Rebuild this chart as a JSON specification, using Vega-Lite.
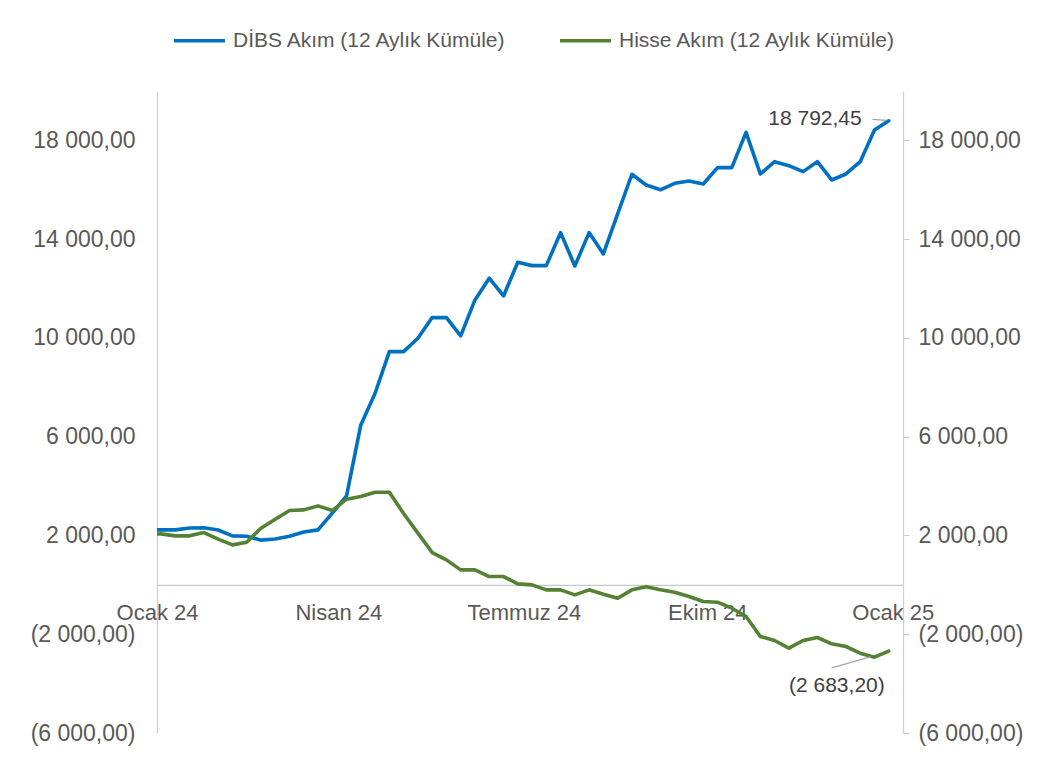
{
  "$schema": "https://vega.github.io/schema/vega-lite/v6.json",
  "width": 746,
  "height": 642,
  "autosize": {"type": "none"},
  "padding": {"left": 157, "top": 91, "right": 135, "bottom": 27},
  "background": "white",
  "config": {
    "font": "Liberation Sans",
    "locale": {"number": {"decimal": ",", "thousands": " ", "grouping": [3], "currency": ["", ""]}},
    "view": {"stroke": null},
    "axis": {"labelFont": "Liberation Sans", "labelFontSize": 23, "labelColor": "#595959", "grid": false, "domainColor": "#D0D0D0", "domainWidth": 1.3, "title": null}
  },
  "data": {
    "values": [
      {"tarih": "2023-12-27", "seri": "DİBS Akım (12 Aylık Kümüle)", "deger": 2227},
      {"tarih": "2024-01-03", "seri": "DİBS Akım (12 Aylık Kümüle)", "deger": 2227},
      {"tarih": "2024-01-10", "seri": "DİBS Akım (12 Aylık Kümüle)", "deger": 2227},
      {"tarih": "2024-01-17", "seri": "DİBS Akım (12 Aylık Kümüle)", "deger": 2300},
      {"tarih": "2024-01-24", "seri": "DİBS Akım (12 Aylık Kümüle)", "deger": 2310},
      {"tarih": "2024-01-31", "seri": "DİBS Akım (12 Aylık Kümüle)", "deger": 2220},
      {"tarih": "2024-02-07", "seri": "DİBS Akım (12 Aylık Kümüle)", "deger": 1984},
      {"tarih": "2024-02-14", "seri": "DİBS Akım (12 Aylık Kümüle)", "deger": 1970},
      {"tarih": "2024-02-21", "seri": "DİBS Akım (12 Aylık Kümüle)", "deger": 1810},
      {"tarih": "2024-02-28", "seri": "DİBS Akım (12 Aylık Kümüle)", "deger": 1855},
      {"tarih": "2024-03-06", "seri": "DİBS Akım (12 Aylık Kümüle)", "deger": 1970},
      {"tarih": "2024-03-13", "seri": "DİBS Akım (12 Aylık Kümüle)", "deger": 2140},
      {"tarih": "2024-03-20", "seri": "DİBS Akım (12 Aylık Kümüle)", "deger": 2227},
      {"tarih": "2024-03-27", "seri": "DİBS Akım (12 Aylık Kümüle)", "deger": 2903},
      {"tarih": "2024-04-03", "seri": "DİBS Akım (12 Aylık Kümüle)", "deger": 3600},
      {"tarih": "2024-04-10", "seri": "DİBS Akım (12 Aylık Kümüle)", "deger": 6478},
      {"tarih": "2024-04-17", "seri": "DİBS Akım (12 Aylık Kümüle)", "deger": 7760},
      {"tarih": "2024-04-24", "seri": "DİBS Akım (12 Aylık Kümüle)", "deger": 9447},
      {"tarih": "2024-05-01", "seri": "DİBS Akım (12 Aylık Kümüle)", "deger": 9447},
      {"tarih": "2024-05-08", "seri": "DİBS Akım (12 Aylık Kümüle)", "deger": 9987},
      {"tarih": "2024-05-15", "seri": "DİBS Akım (12 Aylık Kümüle)", "deger": 10830},
      {"tarih": "2024-05-22", "seri": "DİBS Akım (12 Aylık Kümüle)", "deger": 10822},
      {"tarih": "2024-05-29", "seri": "DİBS Akım (12 Aylık Kümüle)", "deger": 10081},
      {"tarih": "2024-06-05", "seri": "DİBS Akım (12 Aylık Kümüle)", "deger": 11538},
      {"tarih": "2024-06-12", "seri": "DİBS Akım (12 Aylık Kümüle)", "deger": 12417},
      {"tarih": "2024-06-19", "seri": "DİBS Akım (12 Aylık Kümüle)", "deger": 11700},
      {"tarih": "2024-06-26", "seri": "DİBS Akım (12 Aylık Kümüle)", "deger": 13063},
      {"tarih": "2024-07-03", "seri": "DİBS Akım (12 Aylık Kümüle)", "deger": 12928},
      {"tarih": "2024-07-10", "seri": "DİBS Akım (12 Aylık Kümüle)", "deger": 12928},
      {"tarih": "2024-07-17", "seri": "DİBS Akım (12 Aylık Kümüle)", "deger": 14265},
      {"tarih": "2024-07-24", "seri": "DİBS Akım (12 Aylık Kümüle)", "deger": 12915},
      {"tarih": "2024-07-31", "seri": "DİBS Akım (12 Aylık Kümüle)", "deger": 14265},
      {"tarih": "2024-08-07", "seri": "DİBS Akım (12 Aylık Kümüle)", "deger": 13401},
      {"tarih": "2024-08-14", "seri": "DİBS Akım (12 Aylık Kümüle)", "deger": 15020},
      {"tarih": "2024-08-21", "seri": "DİBS Akım (12 Aylık Kümüle)", "deger": 16628},
      {"tarih": "2024-08-28", "seri": "DİBS Akım (12 Aylık Kümüle)", "deger": 16194},
      {"tarih": "2024-09-04", "seri": "DİBS Akım (12 Aylık Kümüle)", "deger": 16000},
      {"tarih": "2024-09-11", "seri": "DİBS Akım (12 Aylık Kümüle)", "deger": 16262},
      {"tarih": "2024-09-18", "seri": "DİBS Akım (12 Aylık Kümüle)", "deger": 16356},
      {"tarih": "2024-09-25", "seri": "DİBS Akım (12 Aylık Kümüle)", "deger": 16235},
      {"tarih": "2024-10-02", "seri": "DİBS Akım (12 Aylık Kümüle)", "deger": 16896},
      {"tarih": "2024-10-09", "seri": "DİBS Akım (12 Aylık Kümüle)", "deger": 16896},
      {"tarih": "2024-10-16", "seri": "DİBS Akım (12 Aylık Kümüle)", "deger": 18327},
      {"tarih": "2024-10-23", "seri": "DİBS Akım (12 Aylık Kümüle)", "deger": 16640},
      {"tarih": "2024-10-30", "seri": "DİBS Akım (12 Aylık Kümüle)", "deger": 17139},
      {"tarih": "2024-11-06", "seri": "DİBS Akım (12 Aylık Kümüle)", "deger": 16977},
      {"tarih": "2024-11-13", "seri": "DİBS Akım (12 Aylık Kümüle)", "deger": 16734},
      {"tarih": "2024-11-20", "seri": "DİBS Akım (12 Aylık Kümüle)", "deger": 17139},
      {"tarih": "2024-11-27", "seri": "DİBS Akım (12 Aylık Kümüle)", "deger": 16397},
      {"tarih": "2024-12-04", "seri": "DİBS Akım (12 Aylık Kümüle)", "deger": 16640},
      {"tarih": "2024-12-11", "seri": "DİBS Akım (12 Aylık Kümüle)", "deger": 17139},
      {"tarih": "2024-12-18", "seri": "DİBS Akım (12 Aylık Kümüle)", "deger": 18421},
      {"tarih": "2024-12-25", "seri": "DİBS Akım (12 Aylık Kümüle)", "deger": 18792.45},
      {"tarih": "2023-12-27", "seri": "Hisse Akım (12 Aylık Kümüle)", "deger": 2050},
      {"tarih": "2024-01-03", "seri": "Hisse Akım (12 Aylık Kümüle)", "deger": 2065},
      {"tarih": "2024-01-10", "seri": "Hisse Akım (12 Aylık Kümüle)", "deger": 1984},
      {"tarih": "2024-01-17", "seri": "Hisse Akım (12 Aylık Kümüle)", "deger": 1984},
      {"tarih": "2024-01-24", "seri": "Hisse Akım (12 Aylık Kümüle)", "deger": 2119},
      {"tarih": "2024-01-31", "seri": "Hisse Akım (12 Aylık Kümüle)", "deger": 1849},
      {"tarih": "2024-02-07", "seri": "Hisse Akım (12 Aylık Kümüle)", "deger": 1619},
      {"tarih": "2024-02-14", "seri": "Hisse Akım (12 Aylık Kümüle)", "deger": 1727},
      {"tarih": "2024-02-21", "seri": "Hisse Akım (12 Aylık Kümüle)", "deger": 2294},
      {"tarih": "2024-02-28", "seri": "Hisse Akım (12 Aylık Kümüle)", "deger": 2659},
      {"tarih": "2024-03-06", "seri": "Hisse Akım (12 Aylık Kümüle)", "deger": 3009},
      {"tarih": "2024-03-13", "seri": "Hisse Akım (12 Aylık Kümüle)", "deger": 3036},
      {"tarih": "2024-03-20", "seri": "Hisse Akım (12 Aylık Kümüle)", "deger": 3198},
      {"tarih": "2024-03-27", "seri": "Hisse Akım (12 Aylık Kümüle)", "deger": 3009},
      {"tarih": "2024-04-03", "seri": "Hisse Akım (12 Aylık Kümüle)", "deger": 3468},
      {"tarih": "2024-04-10", "seri": "Hisse Akım (12 Aylık Kümüle)", "deger": 3576},
      {"tarih": "2024-04-17", "seri": "Hisse Akım (12 Aylık Kümüle)", "deger": 3752},
      {"tarih": "2024-04-24", "seri": "Hisse Akım (12 Aylık Kümüle)", "deger": 3752},
      {"tarih": "2024-05-01", "seri": "Hisse Akım (12 Aylık Kümüle)", "deger": 2887},
      {"tarih": "2024-05-08", "seri": "Hisse Akım (12 Aylık Kümüle)", "deger": 2097},
      {"tarih": "2024-05-15", "seri": "Hisse Akım (12 Aylık Kümüle)", "deger": 1308},
      {"tarih": "2024-05-22", "seri": "Hisse Akım (12 Aylık Kümüle)", "deger": 1012},
      {"tarih": "2024-05-29", "seri": "Hisse Akım (12 Aylık Kümüle)", "deger": 607},
      {"tarih": "2024-06-05", "seri": "Hisse Akım (12 Aylık Kümüle)", "deger": 607},
      {"tarih": "2024-06-12", "seri": "Hisse Akım (12 Aylık Kümüle)", "deger": 337},
      {"tarih": "2024-06-19", "seri": "Hisse Akım (12 Aylık Kümüle)", "deger": 337},
      {"tarih": "2024-06-26", "seri": "Hisse Akım (12 Aylık Kümüle)", "deger": 40},
      {"tarih": "2024-07-03", "seri": "Hisse Akım (12 Aylık Kümüle)", "deger": 0},
      {"tarih": "2024-07-10", "seri": "Hisse Akım (12 Aylık Kümüle)", "deger": -202},
      {"tarih": "2024-07-17", "seri": "Hisse Akım (12 Aylık Kümüle)", "deger": -202},
      {"tarih": "2024-07-24", "seri": "Hisse Akım (12 Aylık Kümüle)", "deger": -405},
      {"tarih": "2024-07-31", "seri": "Hisse Akım (12 Aylık Kümüle)", "deger": -202},
      {"tarih": "2024-08-07", "seri": "Hisse Akım (12 Aylık Kümüle)", "deger": -378},
      {"tarih": "2024-08-14", "seri": "Hisse Akım (12 Aylık Kümüle)", "deger": -540},
      {"tarih": "2024-08-21", "seri": "Hisse Akım (12 Aylık Kümüle)", "deger": -202},
      {"tarih": "2024-08-28", "seri": "Hisse Akım (12 Aylık Kümüle)", "deger": -80},
      {"tarih": "2024-09-04", "seri": "Hisse Akım (12 Aylık Kümüle)", "deger": -202},
      {"tarih": "2024-09-11", "seri": "Hisse Akım (12 Aylık Kümüle)", "deger": -297},
      {"tarih": "2024-09-18", "seri": "Hisse Akım (12 Aylık Kümüle)", "deger": -472},
      {"tarih": "2024-09-25", "seri": "Hisse Akım (12 Aylık Kümüle)", "deger": -675},
      {"tarih": "2024-10-02", "seri": "Hisse Akım (12 Aylık Kümüle)", "deger": -702},
      {"tarih": "2024-10-09", "seri": "Hisse Akım (12 Aylık Kümüle)", "deger": -945},
      {"tarih": "2024-10-16", "seri": "Hisse Akım (12 Aylık Kümüle)", "deger": -1282},
      {"tarih": "2024-10-23", "seri": "Hisse Akım (12 Aylık Kümüle)", "deger": -2092},
      {"tarih": "2024-10-30", "seri": "Hisse Akım (12 Aylık Kümüle)", "deger": -2254},
      {"tarih": "2024-11-06", "seri": "Hisse Akım (12 Aylık Kümüle)", "deger": -2564},
      {"tarih": "2024-11-13", "seri": "Hisse Akım (12 Aylık Kümüle)", "deger": -2254},
      {"tarih": "2024-11-20", "seri": "Hisse Akım (12 Aylık Kümüle)", "deger": -2132},
      {"tarih": "2024-11-27", "seri": "Hisse Akım (12 Aylık Kümüle)", "deger": -2389},
      {"tarih": "2024-12-04", "seri": "Hisse Akım (12 Aylık Kümüle)", "deger": -2497},
      {"tarih": "2024-12-11", "seri": "Hisse Akım (12 Aylık Kümüle)", "deger": -2767},
      {"tarih": "2024-12-18", "seri": "Hisse Akım (12 Aylık Kümüle)", "deger": -2930},
      {"tarih": "2024-12-25", "seri": "Hisse Akım (12 Aylık Kümüle)", "deger": -2683.2}
    ]
  },
  "layer": [
    {
      "mark": {"type": "line", "strokeWidth": 3.6, "clip": true, "strokeJoin": "round", "strokeCap": "round"},
      "encoding": {
        "x": {
          "field": "tarih",
          "type": "temporal",
          "scale": {"type": "utc", "domain": [{"year": 2024, "month": 1, "date": 1, "utc": true}, {"year": 2025, "month": 1, "date": 1, "utc": true}]},
          "axis": {
            "values": [
              {"year": 2024, "month": 1, "date": 1, "utc": true},
              {"year": 2024, "month": 3, "date": 30, "utc": true},
              {"year": 2024, "month": 6, "date": 29, "utc": true},
              {"year": 2024, "month": 9, "date": 27, "utc": true},
              {"year": 2024, "month": 12, "date": 27, "utc": true}
            ],
            "labelExpr": "['Ocak 24','Nisan 24','Temmuz 24','Ekim 24','Ocak 25'][round((datum.value - utc(2024,0,1)) / (90*86400000))]",
            "labelFontSize": 22,
            "ticks": false,
            "domain": true,
            "domainColor": "#C8C8C8",
            "labelFlush": false,
            "labelOverlap": false,
            "labelBound": false,
            "labelPadding": 18,
            "offset": -148.15,
            "title": null
          }
        },
        "y": {
          "field": "deger",
          "type": "quantitative",
          "scale": {"domain": [-6000, 20000], "nice": false, "zero": false},
          "axis": {"orient": "left", "values": [-6000, -2000, 2000, 6000, 10000, 14000, 18000], "format": "(,.2f", "ticks": false, "labelPadding": 22, "domainColor": "#D0D0D0"}
        },
        "color": {
          "field": "seri",
          "type": "nominal",
          "scale": {"domain": ["DİBS Akım (12 Aylık Kümüle)", "Hisse Akım (12 Aylık Kümüle)"], "range": ["#0070C0", "#548235"]},
          "legend": {
            "orient": "none",
            "legendX": 15,
            "legendY": -78,
            "direction": "horizontal",
            "title": null,
            "symbolType": "stroke",
            "symbolSize": 2601,
            "symbolStrokeWidth": 3.6,
            "labelFont": "Liberation Sans",
            "labelFontSize": 21,
            "labelColor": "#595959",
            "labelOffset": 6,
            "labelLimit": 500,
            "columnPadding": 45
          }
        }
      }
    },
    {
      "transform": [{"filter": "datum.deger == 18792.45"}],
      "mark": {"type": "text", "align": "right", "baseline": "middle", "dx": -27, "dy": -2, "fontSize": 21, "color": "#404040", "font": "Liberation Sans"},
      "encoding": {
        "x": {"field": "tarih", "type": "temporal"},
        "y": {
          "field": "deger",
          "type": "quantitative",
          "scale": {"domain": [-6000, 20000], "nice": false, "zero": false},
          "axis": {"orient": "right", "values": [-6000, -2000, 2000, 6000, 10000, 14000, 18000], "format": "(,.2f", "ticks": true, "tickSize": 6, "tickColor": "#C8C8C8", "labelPadding": 9, "domainColor": "#D0D0D0"}
        },
        "text": {"field": "deger", "type": "quantitative", "format": "(,.2f"}
      }
    },
    {
      "transform": [{"filter": "datum.deger == -2683.2"}],
      "mark": {"type": "text", "align": "right", "baseline": "middle", "dx": -4, "dy": 35, "fontSize": 21, "color": "#404040", "font": "Liberation Sans"},
      "encoding": {
        "x": {"field": "tarih", "type": "temporal"},
        "y": {"field": "deger", "type": "quantitative", "scale": {"domain": [-6000, 20000], "nice": false, "zero": false}, "axis": null},
        "text": {"field": "deger", "type": "quantitative", "format": "(,.2f"}
      }
    },
    {
      "transform": [{"filter": "datum.deger == 18792.45"}],
      "mark": {"type": "rule", "color": "#A6A6A6", "strokeWidth": 1.3},
      "encoding": {
        "x": {"datum": {"year": 2024, "month": 12, "date": 17, "utc": true}, "type": "temporal"},
        "x2": {"datum": {"year": 2024, "month": 12, "date": 24, "utc": true}},
        "y": {"datum": 18850, "type": "quantitative", "scale": {"domain": [-6000, 20000], "nice": false, "zero": false}, "axis": null},
        "y2": {"datum": 18810}
      }
    },
    {
      "transform": [{"filter": "datum.deger == -2683.2"}],
      "mark": {"type": "rule", "color": "#A6A6A6", "strokeWidth": 1.3},
      "encoding": {
        "x": {"datum": {"year": 2024, "month": 11, "date": 27, "utc": true}, "type": "temporal"},
        "x2": {"datum": {"year": 2024, "month": 12, "date": 16, "utc": true}},
        "y": {"datum": -3360, "type": "quantitative", "scale": {"domain": [-6000, 20000], "nice": false, "zero": false}, "axis": null},
        "y2": {"datum": -2915}
      }
    }
  ],
  "resolve": {"axis": {"y": "independent"}}
}
